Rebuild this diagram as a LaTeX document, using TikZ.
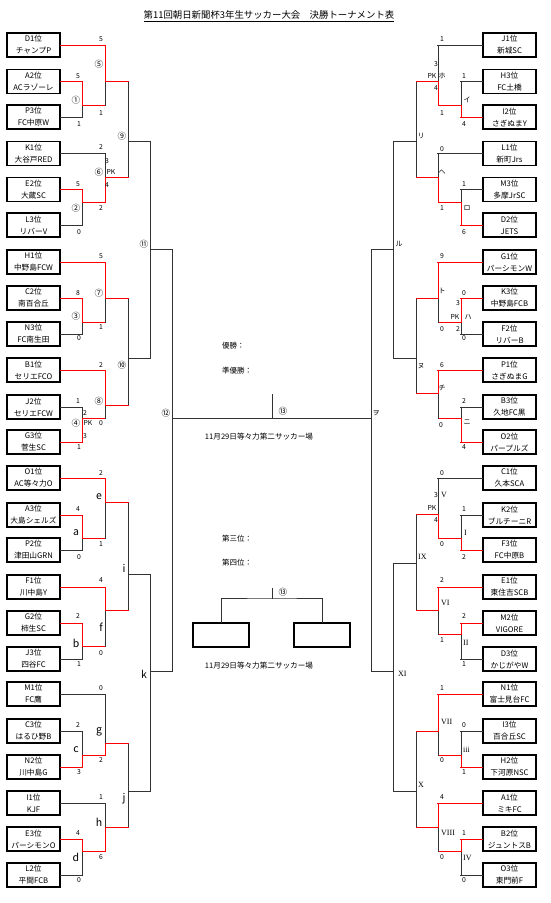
\documentclass[tikz,border=0pt]{standalone}
\usepackage{fontspec}
\setmainfont{Noto Sans CJK JP}
\newfontfamily\romfont{Liberation Serif}
\newcommand\mt[8]{%
  \draw[#5] (#1,#2) -- (#1,#4);
  \draw[#6] (#1,#4) -- (#1,#3);
  \draw[#8] (#1,#4) -- (#7,#4);}
\begin{document}
\begin{tikzpicture}[x=1pt,y=-1pt,
  teambox/.style={draw=black, line width=1.1pt, minimum width=53pt, minimum height=24pt, inner sep=0pt, align=center, font=\fontsize{7.7}{12}\selectfont},
  winln/.style={draw=red, line width=1pt, line cap=rect},
  plainln/.style={draw=black!80, line width=1pt, line cap=rect},
  sc/.style={font=\fontsize{6.8}{7}\selectfont, inner sep=0pt},
  cn/.style={font=\fontsize{8.6}{9}\selectfont, inner sep=0pt},
  lt/.style={font=\fontsize{10.5}{11}\selectfont, inner sep=0pt},
  kn/.style={font=\fontsize{7}{8}\selectfont, inner sep=0pt},
  rn/.style={font=\romfont\fontsize{8}{9}\selectfont, inner sep=0pt, anchor=west},
  info/.style={font=\fontsize{7.5}{9}\selectfont, inner sep=0pt, anchor=west},
  venue/.style={font=\fontsize{7.6}{9}\selectfont, inner sep=0pt}]

\useasboundingbox (0,0) rectangle (550,903);
\fill[white] (0,0) rectangle (550,903);

\node[font=\fontsize{9.4}{11}\selectfont, inner sep=0pt] (title) at (269,16) {\underline{第11回朝日新聞杯3年生サッカー大会　決勝トーナメント表}};

% left teams
\foreach \i/\y/\a/\b in {0/45/D1位/チャンプP, 1/81.5/A2位/ACラゾーレ, 2/117/P3位/FC中原W, 3/153.3/K1位/大谷戸RED, 4/189.3/E2位/大蔵SC, 5/225/L3位/リバーV, 6/262/H1位/中野島FCW, 7/298/C2位/南百合丘, 8/334/N3位/FC南生田, 9/370/B1位/セリエFCO, 10/407/J2位/セリエFCW, 11/442/G3位/菅生SC, 12/478/O1位/AC等々力O, 13/515/A3位/大島シェルズ, 14/550/P2位/津田山GRN, 15/587/F1位/川中島Y, 16/623/G2位/柿生SC, 17/659/J3位/四谷FC, 18/694/M1位/FC鷹, 19/731/C3位/はるひ野B, 20/767/N2位/川中島G, 21/803/I1位/KJF, 22/839/E3位/パーシモンO, 23/875/L2位/平間FCB}
  \node[teambox] (L\i) at (33.5,\y) {\a\\\b};

% right teams
\foreach \i/\y/\a/\b in {0/45/J1位/新城SC, 1/81.5/H3位/FC土橋, 2/117/I2位/さぎぬまY, 3/153.3/L1位/新町Jrs, 4/189.3/M3位/多摩JrSC, 5/225/D2位/JETS, 6/262/G1位/パーシモンW, 7/298/K3位/中野島FCB, 8/334/F2位/リバーB, 9/370/P1位/さぎぬまG, 10/407/B3位/久地FC黒, 11/442/O2位/パープルズ, 12/478/C1位/久本SCA, 13/515/K2位/ブルチーニR, 14/550/F3位/FC中原B, 15/587/E1位/東住吉SCB, 16/623/M2位/VIGORE, 17/659/D3位/かじがやW, 18/694/N1位/富士見台FC, 19/731/I3位/百合丘SC, 20/767/H2位/下河原NSC, 21/803/A1位/ミキFC, 22/839/B2位/ジュントスB, 23/875/O3位/東門前F}
  \node[teambox] (R\i) at (509.5,\y) {\a\\\b};

% team lines
\foreach \i/\d/\c in {0/45/winln,1/22/winln,2/22/plainln,3/45/plainln,4/22/winln,5/22/plainln,6/45/winln,7/22/winln,8/22/plainln,9/45/winln,10/22/plainln,11/22/winln,12/45/winln,13/22/winln,14/22/plainln,15/45/winln,16/22/winln,17/22/plainln,18/45/plainln,19/22/plainln,20/22/winln,21/45/plainln,22/22/winln,23/22/plainln}
  \draw[\c] (L\i.east) -- ++(\d,0);
\foreach \i/\d/\c in {0/45/plainln,1/22/plainln,2/22/winln,3/45/plainln,4/22/plainln,5/22/winln,6/45/winln,7/22/winln,8/22/plainln,9/45/winln,10/22/plainln,11/22/winln,12/45/plainln,13/22/plainln,14/22/winln,15/45/winln,16/22/winln,17/22/plainln,18/45/winln,19/22/plainln,20/22/winln,21/45/winln,22/22/winln,23/22/plainln}
  \draw[\c] (R\i.west) -- ++(-\d,0);

% left bracket
\mt{128}{81.5}{177}{141}{plainln}{plainln}{150}{plainln}
\mt{128}{298}{405}{358}{plainln}{plainln}{150}{plainln}
\mt{128}{502}{610}{574}{plainln}{plainln}{150}{plainln}
\mt{128}{743}{827}{791}{plainln}{plainln}{150}{plainln}
\mt{150}{141}{358}{249}{plainln}{plainln}{172}{plainln}
\mt{150}{574}{791}{671}{plainln}{plainln}{172}{plainln}
\coordinate (semiL) at (172,249);
\coordinate (semiLb) at (172,671);
\coordinate (finL) at (172,418);
\coordinate (finR) at (371,418);
\coordinate (semiR) at (371,249);
\coordinate (semiRb) at (371,671);
\draw[plainln] (semiL) -- (semiLb);
\draw[plainln] (semiR) -- (semiRb);
\draw[plainln] (finL) -- (finR);
\coordinate (fintop) at (272,394);
\draw[plainln] (fintop) -- (fintop |- finL);

\mt{82}{81.5}{117}{105}{winln}{plainln}{105}{winln}
\mt{82}{189.3}{225}{202}{winln}{plainln}{105}{winln}
\mt{82}{298}{334}{322}{winln}{plainln}{105}{winln}
\mt{82}{407}{442}{418}{plainln}{winln}{105}{winln}
\mt{82}{515}{550}{538}{winln}{plainln}{105}{winln}
\mt{82}{623}{659}{646}{winln}{plainln}{105}{winln}
\mt{82}{731}{767}{755}{plainln}{winln}{105}{winln}
\mt{82}{839}{875}{851}{winln}{plainln}{105}{winln}
\mt{105}{45}{105}{81.5}{winln}{plainln}{128}{winln}
\mt{105}{153.3}{202}{177}{plainln}{winln}{128}{winln}
\mt{105}{262}{322}{298}{winln}{plainln}{128}{winln}
\mt{105}{370}{418}{405}{winln}{plainln}{128}{winln}
\mt{105}{478}{538}{502}{winln}{plainln}{128}{winln}
\mt{105}{587}{646}{610}{winln}{plainln}{128}{winln}
\mt{105}{694}{755}{743}{plainln}{winln}{128}{winln}
\mt{105}{803}{851}{827}{plainln}{winln}{128}{winln}

% right bracket
\mt{416}{81.5}{177}{141}{plainln}{plainln}{393}{plainln}
\mt{416}{298}{393}{358}{plainln}{plainln}{393}{plainln}
\mt{416}{514}{610}{563}{plainln}{plainln}{393}{plainln}
\mt{416}{731}{827}{791}{plainln}{plainln}{393}{plainln}
\mt{393}{141}{358}{249}{plainln}{plainln}{371}{plainln}
\mt{393}{563}{791}{671}{plainln}{plainln}{371}{plainln}

\mt{461}{81.5}{117}{105}{plainln}{winln}{438}{winln}
\mt{461}{189.3}{225}{202}{plainln}{winln}{438}{winln}
\mt{461}{298}{334}{322}{winln}{plainln}{438}{winln}
\mt{461}{407}{442}{418}{plainln}{winln}{438}{winln}
\mt{461}{515}{550}{538}{plainln}{winln}{438}{winln}
\mt{461}{623}{659}{634}{winln}{plainln}{438}{winln}
\mt{461}{731}{767}{755}{plainln}{winln}{438}{winln}
\mt{461}{839}{875}{851}{winln}{plainln}{438}{winln}
\mt{438}{45}{105}{81.5}{plainln}{winln}{416}{winln}
\mt{438}{153.3}{202}{177}{plainln}{winln}{416}{winln}
\mt{438}{262}{322}{298}{winln}{plainln}{416}{winln}
\mt{438}{370}{418}{393}{winln}{plainln}{416}{winln}
\mt{438}{478}{538}{514}{plainln}{winln}{416}{winln}
\mt{438}{587}{634}{610}{winln}{plainln}{416}{winln}
\mt{438}{694}{755}{731}{winln}{plainln}{416}{winln}
\mt{438}{803}{851}{827}{winln}{plainln}{416}{winln}

% scores left
\foreach \x/\y/\t [count=\n] in {101/39/5, 101/113/1, 78/76/5, 79/124/1, 101/147/2, 107/161/3, 107/185/4, 101/208/2, 78/184/5, 79/232/0, 101/256/5, 101/327/1, 78/293/8, 79/338/0, 101/365/2, 101/423/0, 78/401/1, 85/413/2, 85/436/3, 79/447/1, 101/473/2, 101/544/1, 78/509/4, 79/557/0, 101/580/4, 101/653/0, 78/616/2, 79/664/1, 101/688/0, 101/760/2, 78/725/2, 79/772/3, 101/797/1, 101/857/6, 78/833/4, 79/880/0, 111/172/PK, 88/423/PK}
  \node[sc] (ls\n) at (\x,\y) {\t};
% scores right
\foreach \x/\y/\t [count=\n] in {442/39/1, 436/64/3, 432/76/PK, 436/88/4, 442/113/1, 464/76/1, 464/124/4, 442/149/0, 442/208/1, 464/184/1, 464/232/6, 442/256/9, 442/329/0, 464/293/0, 458/303/3, 455/317/PK, 458/329/2, 464/338/0, 442/365/6, 441/425/0, 464/401/2, 464/447/4, 442/473/0, 436/495/3, 432/508/PK, 436/520/4, 442/544/0, 464/509/1, 464/557/2, 442/580/2, 442/640/1, 464/616/2, 464/664/1, 442/688/1, 442/760/0, 464/725/0, 464/772/1, 442/797/4, 442/857/0, 464/833/1, 464/880/0}
  \node[sc] (rs\n) at (\x,\y) {\t};
% circled match numbers
\foreach \x/\y/\t [count=\n] in {99/64/⑤, 76/100/①, 99/172/⑥, 76/208/②, 122/136/⑨, 144/244/⑪, 99/293/⑦, 76/316/③, 122/365/⑩, 99/401/⑧, 76/423/④, 166/413/⑫, 283/411/⑬, 283/592/⑬}
  \node[cn] (cm\n) at (\x,\y) {\t};
% letters
\foreach \x/\y/\t [count=\n] in {99/497/e, 76/533/a, 124/568/i, 101/627/f, 76/643/b, 144/674/k, 99/732/g, 76/750/c, 124/799/j, 99/822/h, 76/857/d}
  \node[lt] (lm\n) at (\x,\y) {\t};
% kana
\foreach \x/\y/\t [count=\n] in {442/76/ホ, 467/100/イ, 421/136/リ, 442/172/ヘ, 467/208/ロ, 399/244/ル, 442/291/ト, 468/317/ハ, 421/366/ヌ, 442/388/チ, 467/422/ニ, 376/413/ヲ}
  \node[kn] (km\n) at (\x,\y) {\t};
% roman
\foreach \x/\y/\t [count=\n] in {441/495/V, 464/533/I, 418/557/IX, 441/603/VI, 463/643/II, 398/674/XI, 441/722/VII, 463/750/iii, 418/785/X, 441/833/VIII, 463/858/IV}
  \node[rn] (rm\n) at (\x,\y) {\t};

% centre info
\node[info] (champ) at (222,346) {優勝：};
\node[info] (runner) at (222,371) {準優勝：};
\node[venue] (venue1) at (259,437) {11月29日等々力第二サッカー場};
\node[info] (third) at (222,539) {第三位：};
\node[info] (fourth) at (222,563) {第四位：};
\node[venue] (venue2) at (259,666) {11月29日等々力第二サッカー場};

% third place match
\node[draw=black, line width=1.1pt, minimum width=56pt, minimum height=24pt, inner sep=0pt] (tp1) at (221,635) {};
\node[draw=black, line width=1.1pt, minimum width=56pt, minimum height=24pt, inner sep=0pt] (tp2) at (322,635) {};
\coordinate (tptop) at (272,588);
\coordinate (tpmid) at (272,598);
\draw[plainln] (tptop) -- (tpmid);
\draw[plainln] (tp1.north) |- (tpmid) -| (tp2.north);
\end{tikzpicture}
\end{document}
